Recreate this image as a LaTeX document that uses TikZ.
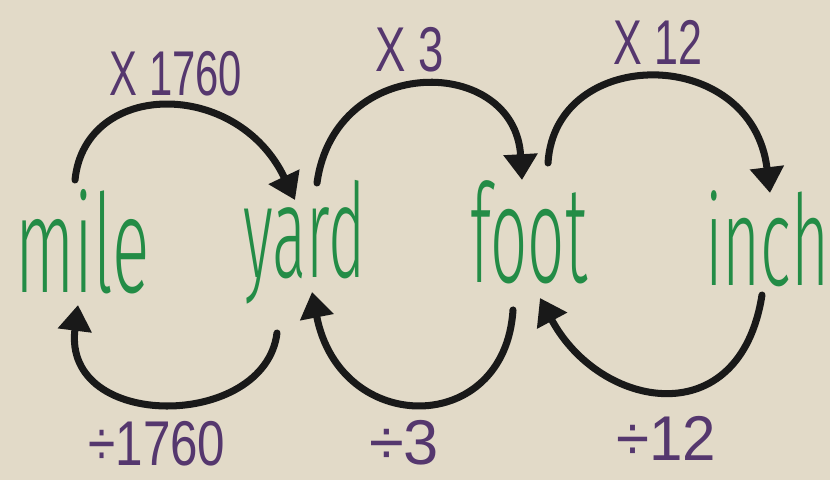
\documentclass[tikz,border=0pt]{standalone}
\usepackage{fontspec}
\usepackage{graphicx}
\usetikzlibrary{arrows.meta}
\newfontfamily\handfont[UprightFont={* Light}]{Fira Sans}
\newfontfamily\labelfont{Liberation Sans}
\definecolor{paper}{RGB}{226,218,200}
\definecolor{marker}{RGB}{35,140,70}
\definecolor{plum}{RGB}{85,55,110}
\definecolor{ink}{RGB}{25,25,25}
\begin{document}
\begin{tikzpicture}[x=0.03cm,y=-0.03cm,
  word/.style={inner sep=0pt, anchor=base west, text=marker,
    font=\handfont\fontsize{110}{110}\selectfont},
  factor/.style={inner sep=0pt, text=plum,
    font=\labelfont\fontsize{54}{54}\selectfont},
  conv/.style={draw=ink, line width=6pt, line cap=round,
    -{Triangle[width=28pt,length=22pt]}}]
\fill[paper] (0,0) rectangle (830,480);
\useasboundingbox (0,0) rectangle (830,480);

% unit words
\node[word] (mile) at (15,292) {\resizebox{115pt}{88pt}{mile}};
\node[word] (yard) at (243,278) {\resizebox{104pt}{83pt}{yard}};
\node[word] (foot) at (470,283) {\resizebox{100pt}{87pt}{foot}};
\node[word] (inch) at (705,286) {\resizebox{106pt}{81pt}{inch}};

% conversion factors
\node[factor] (m1) at (176,74) {\scalebox{0.66}[1]{X 1760}};
\node[factor] (m2) at (410,50) {\scalebox{0.72}[1]{X 3}};
\node[factor] (m3) at (658,42) {\scalebox{0.68}[1]{X 12}};
\node[factor] (d1) at (157,444) {\scalebox{0.78}[1]{÷1760}};
\node[factor] (d2) at (404,443) {\scalebox{1.0}[1]{÷3}};
\node[factor] (d3) at (666,438) {\scalebox{0.95}[1]{÷12}};

% arrow ends
\coordinate (mile-up) at (75,180);
\coordinate (yard-in) at (295,200);
\coordinate (yard-up) at (317,183);
\coordinate (foot-in) at (522,180);
\coordinate (foot-up) at (548,163);
\coordinate (inch-in) at (770,193);
\coordinate (inch-dn) at (762,295);
\coordinate (foot-back) at (540,298);
\coordinate (foot-dn) at (513,310);
\coordinate (yard-back) at (312,292);
\coordinate (yard-dn) at (277,333);
\coordinate (mile-back) at (78,305);

% multiply arrows
\draw[conv] (mile-up) .. controls (85,80) and (237,78) .. (yard-in);
\draw[conv] (yard-up) .. controls (335,52) and (515,55) .. (foot-in);
\draw[conv] (foot-up) .. controls (555,45) and (752,44) .. (inch-in);
% divide arrows
\draw[conv] (yard-dn) .. controls (265,430) and (62,432) .. (mile-back);
\draw[conv] (foot-dn) .. controls (505,437) and (340,437) .. (yard-back);
\draw[conv] (inch-dn) .. controls (740,435) and (600,410) .. (foot-back);
\end{tikzpicture}
\end{document}
